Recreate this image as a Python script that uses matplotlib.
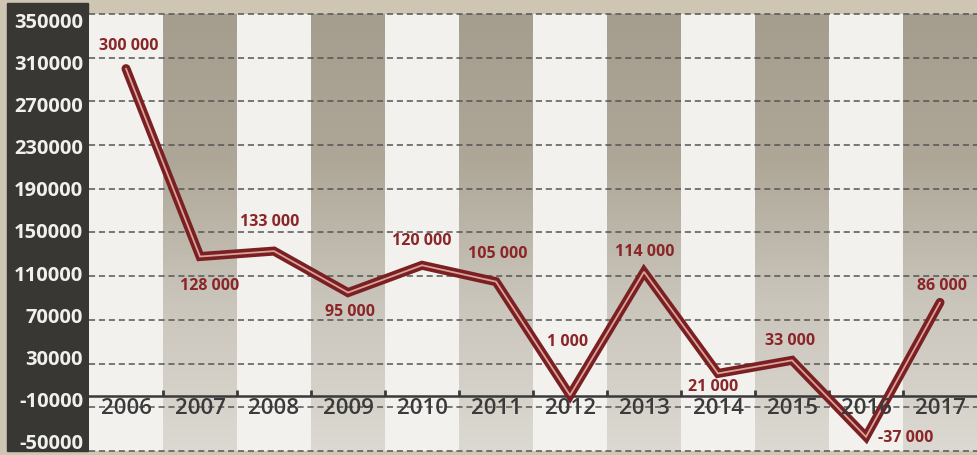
import matplotlib
matplotlib.use("Agg")
import matplotlib.pyplot as plt
import matplotlib.transforms as mtransforms
import numpy as np
from matplotlib.patches import Rectangle
from matplotlib.colors import LinearSegmentedColormap

years = ["2006", "2007", "2008", "2009", "2010", "2011", "2012", "2013", "2014", "2015", "2016", "2017"]
values = [300000, 128000, 133000, 95000, 120000, 105000, 1000, 114000, 21000, 33000, -37000, 86000]
value_labels = ["300 000", "128 000", "133 000", "95 000", "120 000", "105 000", "1 000",
                "114 000", "21 000", "33 000", "-37 000", "86 000"]
y_ticks = [350000, 310000, 270000, 230000, 190000, 150000, 110000, 70000, 30000, -10000, -50000]
# label offsets in pixels (dx, dy)
label_offsets = [(3, 24), (10, -28), (-4, 30), (2, -18), (0, 25), (2, 29), (-2, 54),
                 (1, 21), (-5, -13), (-2, 20), (40, 0), (2, 17)]

W, H = 977, 456
fig = plt.figure(figsize=(W / 100, H / 100), dpi=100)
fig.patch.set_facecolor("#cec5b3")

# dark y-axis panel
fig.patches.append(Rectangle((7 / W, 4 / H), (88 - 7) / W, (452 - 4) / H,
                             transform=fig.transFigure, color="#383734", zorder=-1))

ax = fig.add_axes([89 / W, 1 - 452 / H, (W - 89) / W, (452 - 15) / H])
ax.set_facecolor("#f2f1ee")
ymin, ymax = -50000, 350000
n = len(years)

# shaded bands on odd positions with a vertical gradient
band_cmap = LinearSegmentedColormap.from_list("band", ["#dcd9d2", "#cbc6bc", "#aea797", "#a59d8d"])
grad = np.linspace(0, 1, 256).reshape(-1, 1)
for i in range(n):
    if i % 2 == 1:
        ax.imshow(grad, extent=[i - 0.5, i + 0.5, ymin, ymax], origin="lower",
                  aspect="auto", cmap=band_cmap, zorder=0.5, interpolation="bilinear")

# gridlines
for yv in y_ticks:
    ax.axhline(yv, color="#555555", lw=1.1, ls=(0, (4, 2.5)), zorder=1, clip_on=False)

# zero axis line with boundary ticks
ax.axhline(0, color="#3a3a3a", lw=1.8, zorder=2)
bounds = [i + 0.5 for i in range(n - 1)]
ax.plot(bounds, [0] * len(bounds), ls="none", marker=2, ms=4, mew=2, color="#3a3a3a", zorder=2)

x = np.arange(n)
ax.plot(x, values, color="#7a2023", lw=6.5, solid_joinstyle="miter", solid_capstyle="round", zorder=3)
ax.plot(x, values, color="#dca39a", lw=1.3, solid_joinstyle="miter", solid_capstyle="round", zorder=4)

for i, (v, lab, off) in enumerate(zip(values, value_labels, label_offsets)):
    ax.annotate(lab, (i, v), xytext=(off[0] * 0.72, off[1] * 0.72), textcoords="offset points",
                ha="center", va="center", fontsize=11.5, fontweight="bold",
                family="Open Sans", color="#8a2528", zorder=5)

# category labels on the -10000 line
for i, yr in enumerate(years):
    ax.text(i, -10000, yr, ha="center", va="center", fontsize=16, fontweight="semibold",
            family="Open Sans", color="#3a3a3a", zorder=5)

# y labels in the dark panel (slightly more compact spacing than the gridlines)
blend = mtransforms.blended_transform_factory(ax.transAxes, ax.transData)
for k, t in enumerate(y_ticks):
    dy = -(8 - 1.6 * k)  # pixels
    tr = blend + mtransforms.ScaledTranslation(-6 / 100, dy / 100, fig.dpi_scale_trans)
    ax.text(0, t, str(t), transform=tr, ha="right", va="center", family="Open Sans",
            fontweight="bold", fontsize=14.5, color="#f0f0ec", clip_on=False)

ax.set_xlim(-0.5, n - 0.5)
ax.set_ylim(ymin, ymax)
ax.set_xticks([])
ax.set_yticks([])
for s in ax.spines.values():
    s.set_visible(False)

fig.savefig("out.png", dpi=100, facecolor=fig.get_facecolor())
